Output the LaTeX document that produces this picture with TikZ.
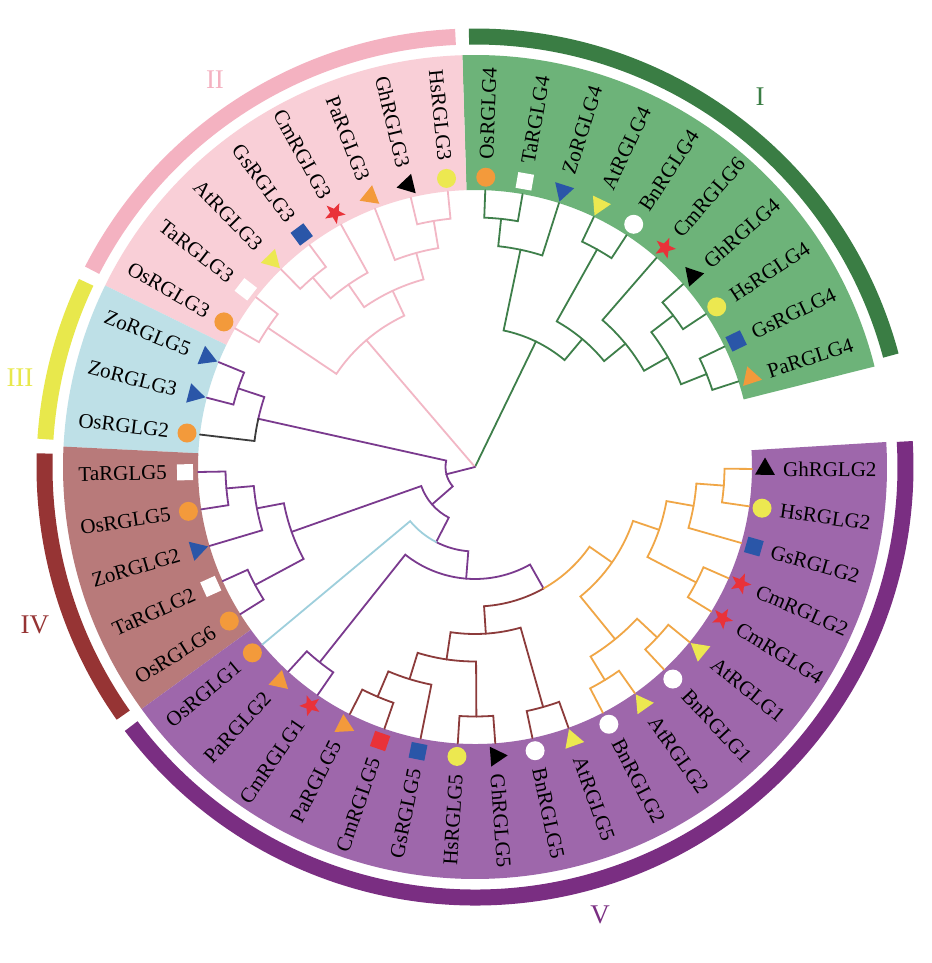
\documentclass[tikz,border=0pt]{standalone}
\usepackage{fontspec}
\setmainfont{Liberation Serif}
\usetikzlibrary{calc,shapes.geometric}

\definecolor{secI}{RGB}{109,179,121}
\definecolor{secII}{RGB}{249,207,215}
\definecolor{secIII}{RGB}{190,224,231}
\definecolor{secIV}{RGB}{184,122,122}
\definecolor{secV}{RGB}{158,103,171}
\definecolor{ringI}{RGB}{58,125,68}
\definecolor{ringII}{RGB}{244,178,193}
\definecolor{ringIII}{RGB}{232,232,76}
\definecolor{ringIV}{RGB}{150,52,52}
\definecolor{ringV}{RGB}{122,46,130}
\definecolor{brgreen}{RGB}{62,127,74}
\definecolor{brpink}{RGB}{242,183,197}
\definecolor{brpurple}{RGB}{122,58,142}
\definecolor{brbrown}{RGB}{140,59,59}
\definecolor{brorange}{RGB}{240,166,70}
\definecolor{brgray}{RGB}{60,60,60}
\definecolor{brblue}{RGB}{158,207,220}
\definecolor{mkorange}{RGB}{243,154,59}
\definecolor{mkblue}{RGB}{42,86,168}
\definecolor{mkyellow}{RGB}{236,232,80}
\definecolor{mkred}{RGB}{233,50,57}

\tikzset{
  branch/.style={line width=1.8pt},
  dot/.style={circle,minimum size=19pt,inner sep=0pt},
  sq/.style={rectangle,minimum size=16pt,inner sep=0pt},
  tri/.style={regular polygon,regular polygon sides=3,minimum size=23pt,inner sep=0pt},
  spOs/.style={dot,fill=mkorange},
  spBn/.style={dot,fill=white},
  spHs/.style={dot,fill=mkyellow},
  spTa/.style={sq,fill=white,rotate=#1},
  spGs/.style={sq,fill=mkblue,rotate=#1},
  spCq/.style={sq,fill=mkred,rotate=#1},
  spCm/.style={star,star points=5,star point ratio=2.4,minimum size=22pt,
    inner sep=0pt,fill=mkred,rotate=#1},
  spGh/.style={tri,fill=black,rotate=#1},
  spPa/.style={tri,fill=mkorange,rotate=#1},
  spZo/.style={tri,fill=mkblue,rotate=#1+90},
  spAt/.style={tri,fill=mkyellow,rotate=#1+90}
}

% arc at the parent's radius, then out to the child
\newcommand{\edgeto}[3]{%
  \draw[branch,#1] let \p1=(#2), \p2=(#3),
    \n1={atan2(\y1,\x1)}, \n2={veclen(\x1,\y1)},
    \n3={\n1+mod(atan2(\y2,\x2)-\n1+540,360)-180}
    in (#2) arc[start angle=\n1, end angle=\n3, radius=\n2] -- (#3);}

\begin{document}
\begin{tikzpicture}[x=1pt,y=1pt,line cap=round,
    lbl/.style={font=\fontsize{21}{24}\selectfont,inner sep=0pt},
    numeral/.style={font=\fontsize{27}{30}\selectfont,inner sep=0pt}]

  \useasboundingbox (-475,-496) rectangle (456,467);
  \fill[white] (-475,-496) rectangle (456,467);

  % clade sectors and outer rings
  \foreach \s/\e/\c in {14.12/91.76/secI, 91.76/153.86/secII, 153.86/177.16/secIII,
      177.16/215.97/secIV, 215.97/363.48/secV}
    \fill[\c] (\s:277) arc[start angle=\s,end angle=\e,radius=277pt]
      -- (\e:412) arc[start angle=\e,end angle=\s,radius=412pt] -- cycle;
  \foreach \s/\e/\c in {15/90.8/ringI, 92.6/152.8/ringII, 154.6/176.3/ringIII,
      178.2/215.2/ringIV, 217/363.4/ringV}
    \draw[\c,line width=16pt,line cap=butt] (\s:430.5) arc[start angle=\s,end angle=\e,radius=430.5pt];

  \node[numeral,text=ringI]   (numI)   at (285,370)   {I};
  \node[numeral,text=ringII]  (numII)  at (-260,387)  {II};
  \node[numeral,text=ringIII] (numIII) at (-455,89)   {III};
  \node[numeral,text=ringIV]  (numIV)  at (-440,-158) {IV};
  \node[numeral,text=ringV]   (numV)   at (125,-448)  {V};

  % leaves
  \foreach \lab/\sp [count=\i from 0] in {PaRGLG4/Pa, GsRGLG4/Gs, HsRGLG4/Hs, GhRGLG4/Gh,
      CmRGLG6/Cm, BnRGLG4/Bn, AtRGLG4/At, ZoRGLG4/Zo, TaRGLG4/Ta, OsRGLG4/Os,
      HsRGLG3/Hs, GhRGLG3/Gh, PaRGLG3/Pa, CmRGLG3/Cm, GsRGLG3/Gs, AtRGLG3/At, TaRGLG3/Ta, OsRGLG3/Os,
      ZoRGLG5/Zo, ZoRGLG3/Zo, OsRGLG2/Os,
      TaRGLG5/Ta, OsRGLG5/Os, ZoRGLG2/Zo, TaRGLG2/Ta, OsRGLG6/Os,
      OsRGLG1/Os, PaRGLG2/Pa, CmRGLG1/Cm, PaRGLG5/Pa, CmRGLG5/Cq, GsRGLG5/Gs, HsRGLG5/Hs,
      GhRGLG5/Gh, BnRGLG5/Bn, AtRGLG5/At, BnRGLG2/Bn, AtRGLG2/At, BnRGLG1/Bn, AtRGLG1/At,
      CmRGLG4/Cm, CmRGLG2/Cm, GsRGLG2/Gs, HsRGLG2/Hs, GhRGLG2/Gh}{
    \pgfmathsetmacro\a{18+7.7636*\i}
    \pgfmathtruncatemacro\flip{and(\a>90,\a<270)}
    \coordinate (\lab) at (\a:277);
    \node[sp\sp=\a] (m\i) at (\a:290) {};
    \ifnum\flip=1
      \node[lbl,rotate=\a+180,anchor=east] (t\i) at (\a:308) {\lab};
    \else
      \node[lbl,rotate=\a,anchor=west] (t\i) at (\a:308) {\lab};
    \fi
  }

  % inner nodes
  \coordinate (root) at (0,0);
  \coordinate (g1) at (83.99:249.5);
  \coordinate (g2) at (78.17:222);
  \coordinate (g3) at (60.70:249.5);
  \coordinate (g4) at (37.41:249.5);
  \coordinate (g5) at (21.88:249.5);
  \coordinate (g6) at (29.65:222);
  \coordinate (g7) at (39.35:194.5);
  \coordinate (g8) at (50.03:167);
  \coordinate (g9) at (64.10:139.5);
  \coordinate (p1) at (99.52:249.5);
  \coordinate (p2) at (105.34:222);
  \coordinate (p3) at (130.57:249.5);
  \coordinate (p4) at (124.75:222);
  \coordinate (p5) at (115.05:194.5);
  \coordinate (p6) at (146.10:249.5);
  \coordinate (p7) at (130.57:167);
  \coordinate (b1) at (161.63:249.5);
  \coordinate (b2) at (167.45:222);
  \coordinate (r1) at (184.92:249.5);
  \coordinate (r2) at (190.74:222);
  \coordinate (r3) at (208.21:249.5);
  \coordinate (r4) at (199.48:194.5);
  \coordinate (v1) at (231.50:249.5);
  \coordinate (v2) at (247.03:249.5);
  \coordinate (v3) at (252.85:222);
  \coordinate (v4) at (270.32:249.5);
  \coordinate (v5) at (261.59:194.5);
  \coordinate (v6) at (285.85:249.5);
  \coordinate (v7) at (273.72:167);
  \coordinate (v8) at (301.37:249.5);
  \coordinate (v9) at (316.90:249.5);
  \coordinate (v10) at (309.14:222);
  \coordinate (v11) at (332.43:249.5);
  \coordinate (v12) at (355.72:249.5);
  \coordinate (v13) at (349.90:222);
  \coordinate (v14) at (341.16:194.5);
  \coordinate (v15) at (325.15:167);
  \coordinate (v16) at (299.44:139.5);
  \coordinate (v17) at (265.47:112);
  \coordinate (v18) at (242.66:84.5);
  \coordinate (v19) at (221.07:57);
  \coordinate (v20) at (194.26:29.5);

  \draw[branch,brgreen] (root) -- (g9);
  \draw[branch,brpink] (root) -- (p7);
  \draw[branch,brpurple] (root) -- (v20);

  \foreach \u/\v in {g9/g2, g9/g8, g2/g1, g2/ZoRGLG4, g1/TaRGLG4, g1/OsRGLG4,
      g8/g3, g8/g7, g3/BnRGLG4, g3/AtRGLG4, g7/CmRGLG6, g7/g6, g6/g4, g6/g5,
      g4/HsRGLG4, g4/GhRGLG4, g5/PaRGLG4, g5/GsRGLG4}{\edgeto{brgreen}{\u}{\v}}
  \foreach \u/\v in {p7/p5, p7/p6, p5/p2, p5/p4, p2/p1, p2/PaRGLG3, p1/HsRGLG3,
      p1/GhRGLG3, p4/CmRGLG3, p4/p3, p3/GsRGLG3, p3/AtRGLG3, p6/TaRGLG3,
      p6/OsRGLG3}{\edgeto{brpink}{\u}{\v}}
  \foreach \u/\v in {v20/b2, v20/v19, b2/b1, b1/ZoRGLG5, b1/ZoRGLG3, v19/r4, v19/v18,
      r4/r2, r4/r3, r2/r1, r2/ZoRGLG2, r1/TaRGLG5, r1/OsRGLG5, r3/TaRGLG2, r3/OsRGLG6,
      v18/v17, v17/v1, v17/v16, v1/PaRGLG2, v1/CmRGLG1}{\edgeto{brpurple}{\u}{\v}}
  \edgeto{brgray}{b2}{OsRGLG2}
  \edgeto{brblue}{v18}{OsRGLG1}
  \foreach \u/\v in {v16/v7, v7/v5, v7/v6, v5/v3, v5/v4, v3/v2, v3/GsRGLG5,
      v2/PaRGLG5, v2/CmRGLG5, v4/HsRGLG5, v4/GhRGLG5, v6/BnRGLG5,
      v6/AtRGLG5}{\edgeto{brbrown}{\u}{\v}}
  \foreach \u/\v in {v16/v15, v15/v10, v15/v14, v10/v8, v10/v9, v8/BnRGLG2, v8/AtRGLG2,
      v9/BnRGLG1, v9/AtRGLG1, v14/v11, v14/v13, v11/CmRGLG4, v11/CmRGLG2,
      v13/GsRGLG2, v13/v12, v12/HsRGLG2, v12/GhRGLG2}{\edgeto{brorange}{\u}{\v}}

\end{tikzpicture}
\end{document}
